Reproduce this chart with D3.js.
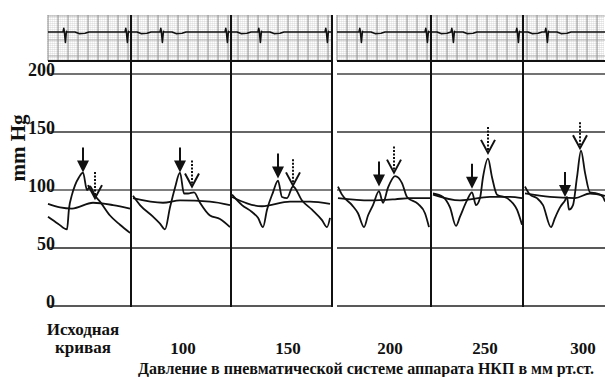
<!DOCTYPE html>
<html>
<head>
<meta charset="utf-8">
<script src="https://cdn.jsdelivr.net/npm/d3@7"></script>
<style>
  body { margin: 0; background: #fff; }
  svg { display: block; font-family: "Liberation Serif", "Times New Roman", serif; font-weight: bold; }
</style>
</head>
<body>
<svg id="chart" width="605" height="377"></svg>
<script>
'use strict'

// mmHg grid and labels
const mmTicks = [0, 50, 100, 150, 200]
const panelLabels = [['Исходная', 'кривая'], ['100'], ['150'], ['200'], ['250'], ['300']]
const labelTimes = [0.35, 1.35, 2.40, 3.42, 4.37, 5.35]
const dividerTimes = [0.83, 1.83, 2.84, 3.83, 4.75]
const stripSegments = [[0, 2.83], [2.89, 5.57]]

// arterial pressure curve per panel: [time s, mmHg]
const pulseInit = [[0, 77], [0.10, 71], [0.19, 66], [0.21, 84], [0.24, 96], [0.27, 104], [0.31, 111], [0.35, 115],
  [0.39, 100], [0.42, 103], [0.47, 95], [0.52, 90], [0.62, 78], [0.72, 70], [0.82, 63]]
const pulse100 = [[0.85, 95], [0.92, 87], [1.05, 77], [1.12, 71], [1.17, 66], [1.22, 85], [1.27, 102], [1.32, 115],
  [1.36, 97], [1.40, 97], [1.46, 98], [1.52, 89], [1.62, 78], [1.72, 75], [1.82, 68]]
const pulse150 = [[1.84, 96], [1.94, 87], [2.04, 81], [2.10, 76], [2.15, 68], [2.19, 83], [2.25, 98], [2.30, 108],
  [2.34, 94], [2.39, 93], [2.45, 103], [2.54, 91], [2.64, 83], [2.74, 74], [2.79, 68], [2.82, 76]]
const pulse200 = [[2.90, 103], [2.94, 96], [3.04, 87], [3.10, 80], [3.16, 68], [3.20, 78], [3.25, 87], [3.31, 99],
  [3.35, 89], [3.40, 102], [3.47, 112], [3.54, 106], [3.59, 94], [3.70, 88], [3.77, 80], [3.81, 68]]
const pulse250 = [[3.85, 97], [3.95, 94], [4.02, 85], [4.08, 69], [4.12, 77], [4.19, 91], [4.24, 98], [4.28, 87],
  [4.32, 93], [4.35, 111], [4.40, 127], [4.44, 111], [4.49, 96], [4.59, 93], [4.69, 83], [4.74, 70]]
const pulse300 = [[4.77, 103], [4.82, 96], [4.89, 93], [4.95, 87], [5.03, 68], [5.07, 76], [5.12, 85], [5.17, 91],
  [5.19, 94], [5.21, 83], [5.25, 87], [5.29, 111], [5.33, 134], [5.37, 115], [5.42, 98], [5.49, 97], [5.55, 94], [5.57, 90]]

// slow cuff pressure curve per panel
const cuffInit = [[0, 88], [0.12, 85], [0.24, 84], [0.45, 89], [0.65, 87], [0.82, 84]]
const cuff100 = [[0.85, 93], [1.15, 89], [1.32, 91], [1.62, 90], [1.82, 87]]
const cuff150 = [[1.84, 94], [2.14, 86], [2.42, 90], [2.62, 90], [2.82, 88]]
const cuff200 = [[2.90, 93], [3.22, 91], [3.47, 92], [3.62, 93], [3.82, 93]]
const cuff250 = [[3.85, 96], [4.12, 91], [4.42, 94], [4.62, 94], [4.74, 93]]
const cuff300 = [[4.77, 97], [5.02, 94], [5.27, 93], [5.42, 97], [5.57, 95]]

// arrow tips: [time s, mmHg]
const solidArrows = [[0.35, 115], [1.32, 115], [2.30, 110], [3.31, 103], [4.24, 101], [5.17, 94]]
const dottedArrows = [[0.47, 93], [1.44, 103], [2.45, 104], [3.46, 115], [4.40, 132], [5.32, 136]]

// ECG: beat times (s) and one beat shape [dt s, mV]
const beatTimes = [0.17, 0.79, 1.14, 1.79, 2.12, 2.79, 3.13, 3.79, 4.05, 4.70, 4.99]
const beatShape = [[-0.02, 0], [-0.012, 0.45], [-0.006, 0], [0.004, -1.3], [0.014, 0.1], [0.02, 0],
  [0.10, 0], [0.14, -0.2], [0.20, -0.15], [0.24, 0]]

const pulses = [pulseInit, pulse100, pulse150, pulse200, pulse250, pulse300]
const cuffs = [cuffInit, cuff100, cuff150, cuff200, cuff250, cuff300]

const svg = d3.select('#chart')
const x = d3.scaleLinear().domain([0, 5.57]).range([48, 605])
const y = d3.scaleLinear().domain([0, 200]).range([306, 74])
const ecgY = d3.scaleLinear().domain([0, 1]).range([32, 24])
const stripTop = 15
const stripBottom = 61

// ECG paper
const paper = svg.append('g').attr('class', 'ecg-paper')
stripSegments.forEach(function (seg) {
  const x0 = x(seg[0])
  const x1 = x(seg[1])
  d3.range(seg[0], seg[1], 0.02).forEach(function (t) {
    paper.append('line')
      .attr('x1', x(t)).attr('x2', x(t)).attr('y1', stripTop).attr('y2', stripBottom)
      .attr('stroke', '#bbb').attr('stroke-width', 0.6).attr('stroke-dasharray', '1,1')
  })
  d3.range(stripTop + 1, stripBottom, 2).forEach(function (yy) {
    paper.append('line')
      .attr('x1', x0).attr('x2', x1).attr('y1', yy).attr('y2', yy)
      .attr('stroke', '#c4c4c4').attr('stroke-width', 0.5).attr('stroke-dasharray', '1,1')
  })
  d3.range(seg[0], seg[1], 0.1).forEach(function (t) {
    paper.append('line')
      .attr('x1', x(t)).attr('x2', x(t)).attr('y1', stripTop).attr('y2', stripBottom)
      .attr('stroke', '#777').attr('stroke-width', 0.8)
  })
  ;[ecgY(2), ecgY(-1), ecgY(-3)].forEach(function (yy) {
    paper.append('line')
      .attr('x1', x0).attr('x2', x1).attr('y1', yy).attr('y2', yy)
      .attr('stroke', '#999').attr('stroke-width', 0.7)
  })
  paper.append('line')
    .attr('x1', x0).attr('x2', x1).attr('y1', stripBottom).attr('y2', stripBottom)
    .attr('stroke', '#111').attr('stroke-width', 2)

  // ECG trace for this segment
  let pts = [[seg[0], 0]]
  beatTimes.filter(function (b) { return b > seg[0] && b < seg[1] }).forEach(function (b) {
    beatShape.forEach(function (p) { pts.push([b + p[0], p[1]]) })
  })
  pts.push([seg[1], 0])
  pts = pts.filter(function (p) { return p[0] >= seg[0] && p[0] <= seg[1] })
  svg.append('path')
    .attr('d', d3.line().x(function (d) { return x(d[0]) }).y(function (d) { return ecgY(d[1]) })(pts))
    .attr('fill', 'none').attr('stroke', '#111').attr('stroke-width', 1.6)
    .attr('stroke-linejoin', 'round')
})

// horizontal mmHg lines
const gridColor = { 0: '#222', 50: '#222', 100: '#555', 150: '#333', 200: '#444' }
mmTicks.forEach(function (v) {
  stripSegments.forEach(function (seg) {
    svg.append('line')
      .attr('x1', x(seg[0])).attr('x2', x(seg[1]))
      .attr('y1', y(v)).attr('y2', y(v))
      .attr('stroke', gridColor[v]).attr('stroke-width', 1.6)
  })
  svg.append('text')
    .attr('x', 55).attr('y', y(v) + 2)
    .attr('text-anchor', 'end')
    .attr('font-size', 18)
    .attr('fill', '#111')
    .text(v)
})

// panel dividers
dividerTimes.forEach(function (t) {
  svg.append('line')
    .attr('x1', x(t)).attr('x2', x(t))
    .attr('y1', stripTop).attr('y2', y(0) + 1)
    .attr('stroke', '#111').attr('stroke-width', 2)
})

// curves
const line = d3.line()
  .x(function (d) { return x(d[0]) })
  .y(function (d) { return y(d[1]) })
  .curve(d3.curveMonotoneX)
cuffs.forEach(function (c) {
  svg.append('path').attr('d', line(c))
    .attr('fill', 'none').attr('stroke', '#111').attr('stroke-width', 1.8)
})
pulses.forEach(function (p) {
  svg.append('path').attr('d', line(p))
    .attr('fill', 'none').attr('stroke', '#111').attr('stroke-width', 1.8)
    .attr('stroke-linejoin', 'round')
})

// arrows
solidArrows.forEach(function (a) {
  const ax = x(a[0])
  const ay = y(a[1])
  svg.append('line')
    .attr('x1', ax).attr('x2', ax).attr('y1', ay - 25).attr('y2', ay - 10)
    .attr('stroke', '#111').attr('stroke-width', 2)
  svg.append('path')
    .attr('d', 'M' + ax + ',' + ay + 'L' + (ax - 6) + ',' + (ay - 12) + 'L' + (ax + 6) + ',' + (ay - 12) + 'Z')
    .attr('fill', '#111')
})
dottedArrows.forEach(function (a) {
  const ax = x(a[0])
  const ay = y(a[1])
  svg.append('line')
    .attr('x1', ax).attr('x2', ax).attr('y1', ay - 26).attr('y2', ay - 3)
    .attr('stroke', '#111').attr('stroke-width', 2).attr('stroke-dasharray', '2,1.5')
  svg.append('path')
    .attr('d', 'M' + (ax - 7) + ',' + (ay - 13) + 'L' + ax + ',' + ay + 'L' + (ax + 7) + ',' + (ay - 13))
    .attr('fill', 'none').attr('stroke', '#111').attr('stroke-width', 2)
})

// texts
svg.append('text')
  .attr('transform', 'translate(25,148) rotate(-90)')
  .attr('text-anchor', 'middle')
  .attr('font-size', 21)
  .attr('fill', '#111')
  .text('mm Hg')

panelLabels.forEach(function (lines, i) {
  const t = svg.append('text')
    .attr('text-anchor', 'middle')
    .attr('font-size', 17)
    .attr('fill', '#111')
  if (lines.length === 2) {
    t.append('tspan').attr('x', x(labelTimes[i])).attr('y', 335).text(lines[0])
    t.append('tspan').attr('x', x(labelTimes[i])).attr('y', 353).text(lines[1])
  } else {
    t.attr('x', x(labelTimes[i])).attr('y', 354).text(lines[0])
  }
})

svg.append('text')
  .attr('x', 366).attr('y', 374)
  .attr('text-anchor', 'middle')
  .attr('font-size', 16)
  .attr('fill', '#111')
  .text('Давление в пневматической системе аппарата НКП  в мм рт.ст.')
</script>
</body>
</html>
